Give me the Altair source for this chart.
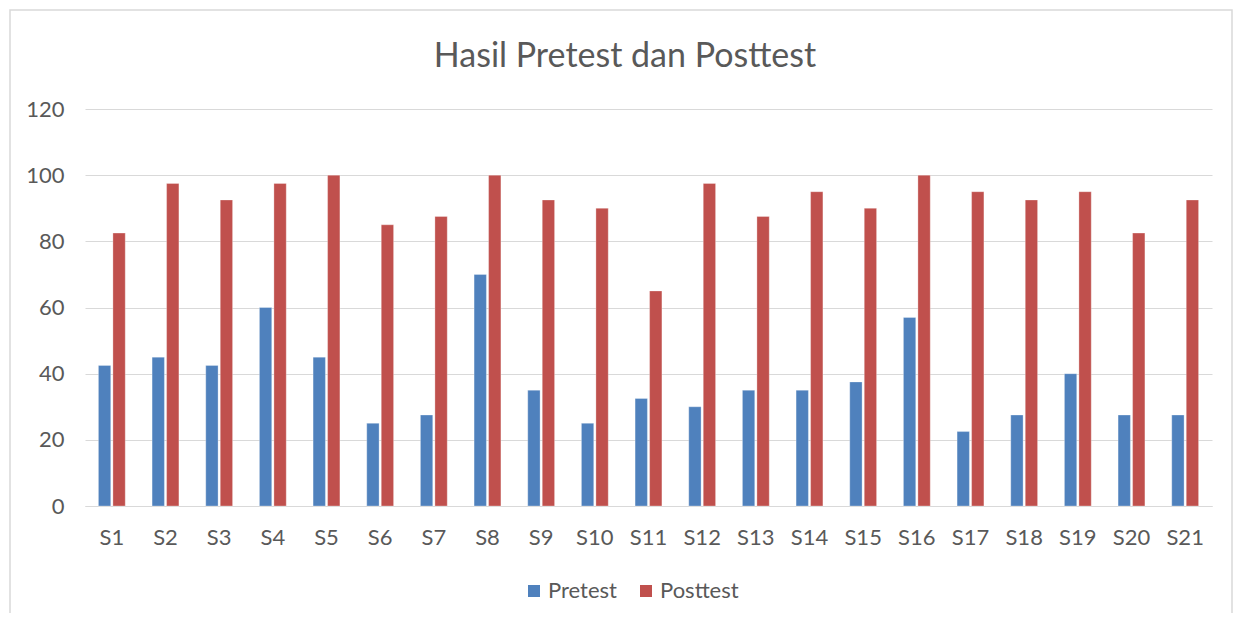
import altair as alt
import pandas as pd

students = [f"S{i}" for i in range(1, 22)]
pretest = [42.5, 45, 42.5, 60, 45, 25, 27.5, 70, 35, 25, 32.5, 30, 35, 35, 37.5, 57, 22.5, 27.5, 40, 27.5, 27.5]
posttest = [82.5, 97.5, 92.5, 97.5, 100, 85, 87.5, 100, 92.5, 90, 65, 97.5, 87.5, 95, 90, 100, 95, 92.5, 95, 82.5, 92.5]
series = ["Pretest", "Posttest"]
colors = ["#4F81BD", "#C0504D"]
chart_title = "Hasil Pretest dan Posttest"

rows = []
for s, a, b in zip(students, pretest, posttest):
    rows.append({"Siswa": s, "Tes": "Pretest", "Nilai": a})
    rows.append({"Siswa": s, "Tes": "Posttest", "Nilai": b})
df = pd.DataFrame(rows)

W, H = 1127, 397
PL, PT, PR, PB = 77, 101, 21, 107
FONT = "Lato"
GRAY = "#595959"

frame = alt.Chart(pd.DataFrame({"a": [0]})).mark_rect(
    fill="white", fillOpacity=0, stroke="#D9D9D9", strokeWidth=1.5
).encode(
    x=alt.value(-75), x2=alt.value(1147), y=alt.value(-99), y2=alt.value(H + PB + 20)
)

title = alt.Chart(pd.DataFrame({"t": [chart_title]})).mark_text(
    fontSize=34, font=FONT, color=GRAY, align="center", baseline="middle"
).encode(x=alt.value(540), y=alt.value(-52), text="t:N")

bars = alt.Chart(df).mark_bar(stroke="white", strokeWidth=0.5, strokeOpacity=0.6).encode(
    x=alt.X("Siswa:N", sort=students, title=None,
            scale=alt.Scale(paddingInner=0.5, paddingOuter=0.25),
            axis=alt.Axis(labelAngle=0, labelFontSize=22, labelColor=GRAY, labelFont=FONT,
                          ticks=False, domainColor="#D9D9D9", domainWidth=1, labelPadding=21, grid=False)),
    xOffset=alt.XOffset("Tes:N", sort=series, scale=alt.Scale(paddingInner=0.15)),
    y=alt.Y("Nilai:Q", title=None, scale=alt.Scale(domain=[0, 120]),
            axis=alt.Axis(values=[0, 20, 40, 60, 80, 100, 120], labelFontSize=22, labelColor=GRAY,
                          labelFont=FONT, ticks=False, domain=False, gridColor="#D9D9D9",
                          gridWidth=1, labelPadding=21)),
    color=alt.Color("Tes:N", sort=series, scale=alt.Scale(domain=series, range=colors),
                    legend=alt.Legend(title=None, orient="none", direction="horizontal",
                                      legendX=438, legendY=H + 74, symbolType="square",
                                      symbolSize=144, labelFontSize=22, labelColor=GRAY,
                                      labelFont=FONT, columnPadding=18, symbolStrokeWidth=0,
                                      labelOffset=3)),
)

chart = alt.layer(frame, title, bars).properties(
    width=W, height=H,
    autosize=alt.AutoSizeParams(type="none"),
    padding={"left": PL, "top": PT, "right": PR, "bottom": PB},
    background="white",
).configure_view(strokeWidth=0, stroke=None)

chart.save("out.html", embed_options={"renderer": "svg", "actions": False})
